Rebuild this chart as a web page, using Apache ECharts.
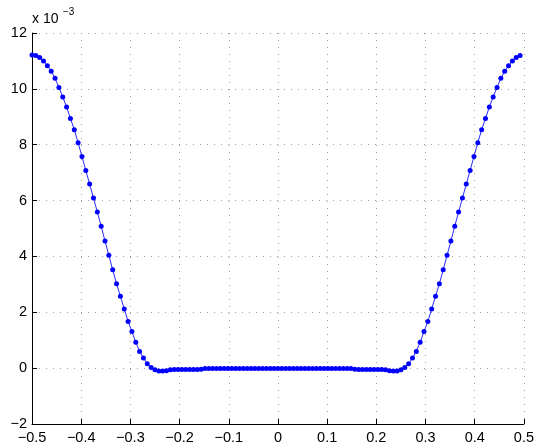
<!DOCTYPE html>
<html>
<head>
<meta charset="utf-8">
<script src="https://cdn.jsdelivr.net/npm/echarts@6/dist/echarts.min.js"></script>
<style>
html,body{margin:0;padding:0;background:#fff;}
#c{width:537px;height:448px;}
</style>
</head>
<body>
<div id="c"></div>
<script>
// x positions: -0.5 + k/128, k = 0..127
var xValues = [];
for (var k = 0; k < 128; k++) { xValues.push(-0.5 + k / 128); }

// y values in units of 1e-3
var yValues = [
  11.21, 11.19, 11.12, 11.00, 10.83, 10.63, 10.38, 10.05, 9.71, 9.35,
  8.94, 8.54, 8.07, 7.58, 7.08, 6.59, 6.09, 5.59, 5.08, 4.55,
  4.04, 3.52, 3.02, 2.57, 2.12, 1.67, 1.31, 0.93, 0.60, 0.36,
  0.16, 0.02, -0.06, -0.10, -0.10, -0.09, -0.06, -0.05, -0.05, -0.05,
  -0.05, -0.05, -0.05, -0.05, -0.04, -0.01, -0.01, -0.01, -0.01, -0.01,
  -0.01, -0.01, -0.01, -0.01, -0.01, -0.01, -0.01, -0.01, -0.01, -0.01,
  -0.01, -0.01, -0.01, -0.01, -0.01,
  -0.01, -0.01, -0.01, -0.01, -0.01, -0.01, -0.01, -0.01, -0.01, -0.01,
  -0.01, -0.01, -0.01, -0.01, -0.01, -0.01, -0.01, -0.01, -0.01, -0.04,
  -0.05, -0.05, -0.05, -0.05, -0.05, -0.05, -0.05, -0.06, -0.09, -0.10,
  -0.10, -0.06, 0.02, 0.16, 0.36, 0.60, 0.93, 1.31, 1.67, 2.12,
  2.57, 3.02, 3.52, 4.04, 4.55, 5.08, 5.59, 6.09, 6.59, 7.08,
  7.58, 8.07, 8.54, 8.94, 9.35, 9.71, 10.05, 10.38, 10.63, 10.83,
  11.00, 11.12, 11.19
];

var xTicks = [-0.5, -0.4, -0.3, -0.2, -0.1, 0, 0.1, 0.2, 0.3, 0.4, 0.5];
var yTicks = [-2, 0, 2, 4, 6, 8, 10, 12];
var exponentLabel = ['x 10', '\u22123'];

var points = xValues.map(function (x, i) { return [x, yValues[i]]; });

function fmt(v) {
  var s = String(Math.round(v * 10) / 10);
  return s.replace('-', '\u2212');
}

var chart = echarts.init(document.getElementById('c'), null, {renderer: 'canvas'});
var FONT = 'Liberation Sans, Arial, sans-serif';
chart.setOption({
  animation: false,
  backgroundColor: '#ffffff',
  grid: {left: 32, right: 10, top: 33, bottom: 24, containLabel: false},
  xAxis: {
    type: 'value', min: xTicks[0], max: xTicks[xTicks.length - 1], interval: 0.1,
    axisLine: {show: true, onZero: false, lineStyle: {color: '#000', width: 1}},
    axisTick: {show: true, inside: true, length: 5, lineStyle: {color: '#000'}},
    axisLabel: {color: '#000', fontSize: 14.5, fontFamily: FONT, margin: 6, formatter: fmt},
    splitLine: {show: true, lineStyle: {color: '#a0a0a0', type: [1, 6], width: 1}}
  },
  yAxis: {
    type: 'value', min: yTicks[0], max: yTicks[yTicks.length - 1], interval: 2,
    axisLine: {show: true, onZero: false, lineStyle: {color: '#000', width: 1}},
    axisTick: {show: true, inside: true, length: 5, lineStyle: {color: '#000'}},
    axisLabel: {color: '#000', fontSize: 14.5, fontFamily: FONT, margin: 5, formatter: fmt},
    splitLine: {show: true, lineStyle: {color: '#a0a0a0', type: [1, 6], width: 1}}
  },
  graphic: [
    {type: 'text', left: 32, top: 12, style: {text: exponentLabel[0], fontSize: 14, fontFamily: FONT, fill: '#000'}},
    {type: 'text', left: 63, top: 7, style: {text: exponentLabel[1], fontSize: 10, fontFamily: FONT, fill: '#000'}}
  ],
  series: [{
    type: 'line',
    data: points,
    showSymbol: true,
    symbol: 'circle',
    symbolSize: 5,
    itemStyle: {color: '#0000ff'},
    lineStyle: {color: '#2a2aff', width: 1},
    clip: false
  }]
});
</script>
</body>
</html>
